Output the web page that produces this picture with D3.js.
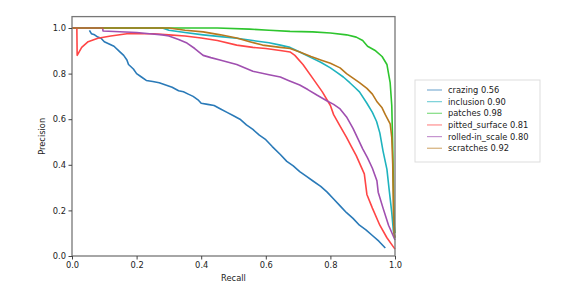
<!DOCTYPE html>
<html>
<head>
<meta charset="utf-8">
<script src="https://cdn.jsdelivr.net/npm/d3@7"></script>
<style>
  body { margin: 0; background: #fff; }
  svg text { font-family: "DejaVu Sans", sans-serif; fill: #222; }
</style>
</head>
<body>
<svg id="chart" width="577" height="292"></svg>
<script>
// class names and the mAP shown in the legend
const classes = ['crazing', 'inclusion', 'patches', 'pitted_surface', 'rolled-in_scale', 'scratches'];
const scores = [0.56, 0.90, 0.98, 0.81, 0.80, 0.92];
const colors = ['#2a7ab8', '#1fb3be', '#2ec52e', '#ff4545', '#a04fb0', '#b8781e'];

// [recall, precision]
const crazing = [[0.054,0.99],[0.06,0.975],[0.07,0.97],[0.08,0.96],[0.09,0.955],[0.1,0.94],[0.115,0.93],[0.13,0.92],[0.145,0.9],[0.16,0.88],[0.17,0.86],[0.175,0.84],[0.19,0.82],[0.2,0.8],[0.215,0.785],[0.23,0.77],[0.25,0.765],[0.27,0.76],[0.29,0.75],[0.31,0.74],[0.33,0.725],[0.345,0.72],[0.36,0.71],[0.375,0.7],[0.39,0.685],[0.4,0.67],[0.42,0.665],[0.44,0.66],[0.46,0.645],[0.48,0.63],[0.5,0.615],[0.52,0.6],[0.54,0.575],[0.56,0.555],[0.58,0.53],[0.6,0.51],[0.62,0.48],[0.645,0.445],[0.665,0.415],[0.685,0.395],[0.705,0.37],[0.725,0.35],[0.745,0.33],[0.77,0.305],[0.79,0.28],[0.81,0.25],[0.83,0.22],[0.85,0.19],[0.87,0.165],[0.89,0.135],[0.91,0.115],[0.93,0.09],[0.95,0.065],[0.97,0.035]];
const inclusion = [[0,1],[0.28,1],[0.3,0.99],[0.35,0.98],[0.406,0.97],[0.46,0.962],[0.51,0.955],[0.56,0.945],[0.61,0.935],[0.645,0.925],[0.675,0.915],[0.705,0.895],[0.74,0.87],[0.77,0.85],[0.8,0.825],[0.82,0.805],[0.84,0.785],[0.86,0.76],[0.875,0.74],[0.89,0.72],[0.913,0.67],[0.93,0.63],[0.943,0.59],[0.953,0.54],[0.963,0.46],[0.975,0.38],[0.982,0.29],[0.99,0.19],[0.995,0.11],[1.0,0.08]];
const patches = [[0,1],[0.45,1],[0.55,0.995],[0.61,0.99],[0.675,0.985],[0.745,0.983],[0.8,0.978],[0.85,0.97],[0.88,0.96],[0.9,0.945],[0.915,0.92],[0.94,0.9],[0.96,0.875],[0.975,0.84],[0.98,0.8],[0.985,0.76],[0.99,0.66],[0.992,0.54],[0.994,0.4],[0.996,0.25],[0.998,0.13],[1.0,0.1]];
const pitted = [[0,1],[0.015,1],[0.016,0.88],[0.02,0.89],[0.03,0.915],[0.05,0.94],[0.08,0.955],[0.12,0.965],[0.17,0.975],[0.25,0.975],[0.3,0.97],[0.35,0.965],[0.4,0.956],[0.45,0.945],[0.51,0.925],[0.56,0.915],[0.6,0.91],[0.65,0.9],[0.675,0.895],[0.69,0.88],[0.715,0.84],[0.745,0.78],[0.775,0.72],[0.8,0.66],[0.81,0.62],[0.83,0.57],[0.85,0.52],[0.865,0.48],[0.88,0.44],[0.905,0.36],[0.913,0.27],[0.93,0.21],[0.953,0.135],[0.975,0.08],[0.995,0.04],[1.0,0.03]];
const rolled = [[0,1],[0.095,1],[0.096,0.987],[0.2,0.98],[0.24,0.975],[0.28,0.97],[0.3,0.965],[0.33,0.95],[0.356,0.934],[0.38,0.91],[0.406,0.88],[0.43,0.87],[0.458,0.86],[0.51,0.84],[0.56,0.81],[0.61,0.795],[0.645,0.785],[0.67,0.77],[0.705,0.75],[0.73,0.73],[0.758,0.706],[0.79,0.68],[0.81,0.665],[0.83,0.645],[0.85,0.61],[0.87,0.56],[0.885,0.515],[0.9,0.47],[0.915,0.43],[0.93,0.385],[0.944,0.33],[0.948,0.28],[0.963,0.21],[0.98,0.135],[0.994,0.09],[1.0,0.07]];
const scratches = [[0,1],[0.3,1],[0.35,0.99],[0.406,0.983],[0.46,0.97],[0.51,0.956],[0.55,0.94],[0.59,0.925],[0.645,0.915],[0.675,0.91],[0.705,0.895],[0.74,0.875],[0.77,0.86],[0.8,0.845],[0.83,0.825],[0.85,0.8],[0.87,0.78],[0.89,0.76],[0.913,0.735],[0.93,0.71],[0.945,0.675],[0.96,0.65],[0.97,0.62],[0.985,0.58],[0.99,0.52],[0.993,0.4],[0.995,0.2],[0.997,0.1],[1.0,0.08]];

const curves = [crazing, inclusion, patches, pitted, rolled, scratches];
const ticks = [0, 0.2, 0.4, 0.6, 0.8, 1.0];

const svg = d3.select('#chart');

var x = d3.scaleLinear().domain([0, 1]).range([72, 395]);
var y = d3.scaleLinear().domain([0, 1.05]).range([256, 16.6]);

var line = d3.line().x(d => x(d[0])).y(d => y(d[1]));

svg.append('g').attr('class', 'curves')
  .selectAll('path')
  .data(curves)
  .enter().append('path')
  .attr('d', line)
  .attr('fill', 'none')
  .attr('stroke', (d, i) => colors[i])
  .attr('stroke-width', 1.6)
  .attr('stroke-linejoin', 'round');

// frame
svg.append('rect')
  .attr('x', x(0)).attr('y', y(1.05))
  .attr('width', x(1) - x(0)).attr('height', y(0) - y(1.05))
  .attr('fill', 'none').attr('stroke', '#777').attr('stroke-width', 1.3);

var xAxis = svg.append('g')
  .attr('transform', `translate(0,${y(0)})`)
  .call(d3.axisBottom(x).tickValues(ticks).tickFormat(d3.format('.1f')).tickSize(3.5).tickPadding(2.5));
var yAxis = svg.append('g')
  .attr('transform', `translate(${x(0)},0)`)
  .call(d3.axisLeft(y).tickValues(ticks).tickFormat(d3.format('.1f')).tickSize(3.5).tickPadding(2.5));

[xAxis, yAxis].forEach(a => {
  a.select('.domain').remove();
  a.selectAll('line').attr('stroke', '#444');
  a.selectAll('text').attr('font-size', 8.3).attr('fill', '#222');
});

svg.append('text')
  .attr('x', (x(0) + x(1)) / 2).attr('y', 281)
  .attr('text-anchor', 'middle').attr('font-size', 8.3)
  .text('Recall');

svg.append('text')
  .attr('transform', `translate(45,${(y(0) + y(1.05)) / 2}) rotate(-90)`)
  .attr('text-anchor', 'middle').attr('font-size', 8.3)
  .text('Precision');

// legend
var legend = svg.append('g').attr('transform', 'translate(415,80)');
legend.append('rect')
  .attr('width', 125).attr('height', 82)
  .attr('fill', '#fff').attr('stroke', '#ddd').attr('stroke-width', 1);

var rows = legend.selectAll('g.row')
  .data(classes)
  .enter().append('g')
  .attr('class', 'row')
  .attr('transform', (d, i) => `translate(0,${10 + i * 11.65})`);

rows.append('line')
  .attr('x1', 12).attr('x2', 27)
  .attr('stroke', (d, i) => colors[i])
  .attr('stroke-opacity', 0.6)
  .attr('stroke-width', 1.2);

rows.append('text')
  .attr('x', 33).attr('dy', '0.35em')
  .attr('font-size', 8.3)
  .text((d, i) => `${d} ${scores[i].toFixed(2)}`);
</script>
</body>
</html>
